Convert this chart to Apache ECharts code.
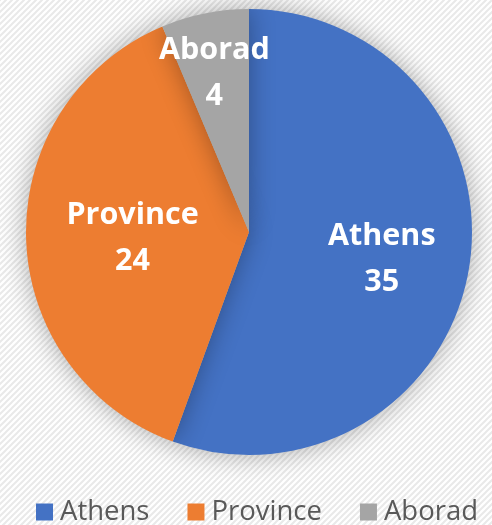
<!DOCTYPE html>
<html>
<head>
<meta charset="utf-8">
<script src="https://cdn.jsdelivr.net/npm/echarts@6/dist/echarts.min.js"></script>
<style>
  html, body { margin: 0; padding: 0; background: #fff; }
  #chart { width: 492px; height: 525px; }
</style>
</head>
<body>
<div id="chart"></div>
<script>
var categories = ["Athens", "Province", "Aborad"];
var values = [35, 24, 4];
var colors = ["#4472C4", "#ED7D31", "#A5A5A5"];

// nudges so labels sit where the original put them
var labelNudge = [[20, 7], [-2, 3], [-12, -46]];

// light diagonal stripes for the background
function stripeTile() {
  var c = document.createElement("canvas");
  c.width = 6; c.height = 6;
  var ctx = c.getContext("2d");
  ctx.fillStyle = "#ffffff";
  ctx.fillRect(0, 0, 6, 6);
  ctx.strokeStyle = "#e9e9e9";
  ctx.lineWidth = 2;
  ctx.beginPath();
  ctx.moveTo(-1, 7); ctx.lineTo(7, -1);
  ctx.moveTo(-4, 4); ctx.lineTo(4, -4);
  ctx.moveTo(2, 10); ctx.lineTo(10, 2);
  ctx.stroke();
  return c;
}

var chartDom = document.getElementById("chart");
var myChart = echarts.init(chartDom);
var option = {
  backgroundColor: { image: stripeTile(), repeat: "repeat" },
  color: colors,
  legend: {
    bottom: -6,
    left: 31,
    itemWidth: 17,
    itemHeight: 17,
    itemGap: 38,
    icon: "rect",
    textStyle: {
      fontFamily: "Open Sans",
      fontSize: 27.5,
      color: "#595959",
      padding: [0, 0, 0, 2]
    },
    data: categories
  },
  series: [
    {
      type: "pie",
      center: [249, 232],
      radius: 223,
      startAngle: 90,
      clockwise: true,
      animation: false,
      itemStyle: {
        shadowBlur: 26,
        shadowColor: "rgba(0,0,0,0.32)"
      },
      label: {
        position: "inside",
        formatter: "{b}\n{c}",
        color: "#ffffff",
        fontFamily: "Open Sans",
        fontWeight: "bold",
        fontSize: 30.5,
        lineHeight: 46
      },
      labelLine: { show: false },
      emphasis: { disabled: true },
      labelLayout: function (params) {
        var n = labelNudge[params.dataIndex];
        return { dx: n[0], dy: n[1] };
      },
      data: categories.map(function (name, i) {
        return { name: name, value: values[i] };
      })
    }
  ]
};
option && myChart.setOption(option);
</script>
</body>
</html>
